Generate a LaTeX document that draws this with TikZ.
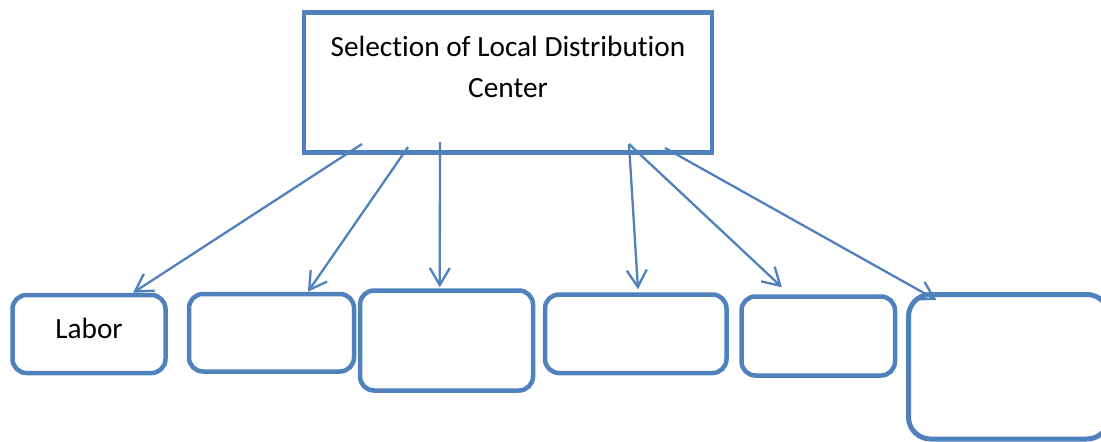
\documentclass[tikz,border=0pt]{standalone}
\usepackage{fontspec}
\setmainfont{Carlito}[Ligatures=NoCommon]
\usetikzlibrary{arrows.meta,calc}
\definecolor{boxblue}{HTML}{4F81BD}
\begin{document}
\begin{tikzpicture}[x=1pt,y=-1pt,
  topbox/.style={draw=boxblue,line width=4.5pt,inner sep=0pt,rectangle},
  rbox/.style={draw=boxblue,line width=4.5pt,inner sep=0pt,rectangle,rounded corners=14pt},
  bigtxt/.style={font=\fontsize{29.3}{41.7}\selectfont,align=center,inner sep=0pt},
  arr/.style={draw=boxblue,line width=2.3pt,-{Straight Barb[length=17pt,width=20pt]}}]
\useasboundingbox (0,0) rectangle (1101,442);
\node[topbox,minimum width=408pt,minimum height=140pt] (top) at (508,82.5) {};
\node[bigtxt] (toptext) at (508,67) {Selection of Local Distribution\\Center};
\node[rbox,minimum width=153pt,minimum height=78pt,font=\fontsize{29.3}{35}\selectfont,text height=20pt,text depth=12pt] (b1) at (89,334) {Labor};
\node[rbox,minimum width=165pt,minimum height=77.5pt] (b2) at (271.5,332.75) {};
\node[rbox,minimum width=173pt,minimum height=100pt] (b3) at (446.5,340.5) {};
\node[rbox,minimum width=181.5pt,minimum height=78.5pt] (b4) at (635.75,333.75) {};
\node[rbox,minimum width=153.5pt,minimum height=79pt] (b5) at (818.25,336) {};
\node[rbox,line width=5pt,rounded corners=22pt,minimum width=200.5pt,minimum height=144.5pt] (b6) at (1008.75,366.75) {};
\coordinate (s1) at (362,144);
\coordinate (s2) at (408,147);
\coordinate (s3) at (440,142);
\coordinate (s4) at (629,144);
\coordinate (s6) at (665,148);
\draw[arr] (s1) -- ($(b1.north west)!0.78!(b1.north east)$);
\draw[arr] (s2) -- ($(b2.north west)!0.715!(b2.north east)$);
\draw[arr] (s3) -- ($(b3.north west)!0.462!(b3.north east)+(0,-1)$);
\draw[arr] (s4) -- ($(b4.north west)!0.512!(b4.north east)+(0,-3)$);
\draw[arr] (s4) -- ($(b5.north west)!0.27!(b5.north east)+(0,-7)$);
\draw[arr] (s6) -- ($(b6.north west)!0.148!(b6.north east)+(0,8)$);
\end{tikzpicture}
\end{document}
